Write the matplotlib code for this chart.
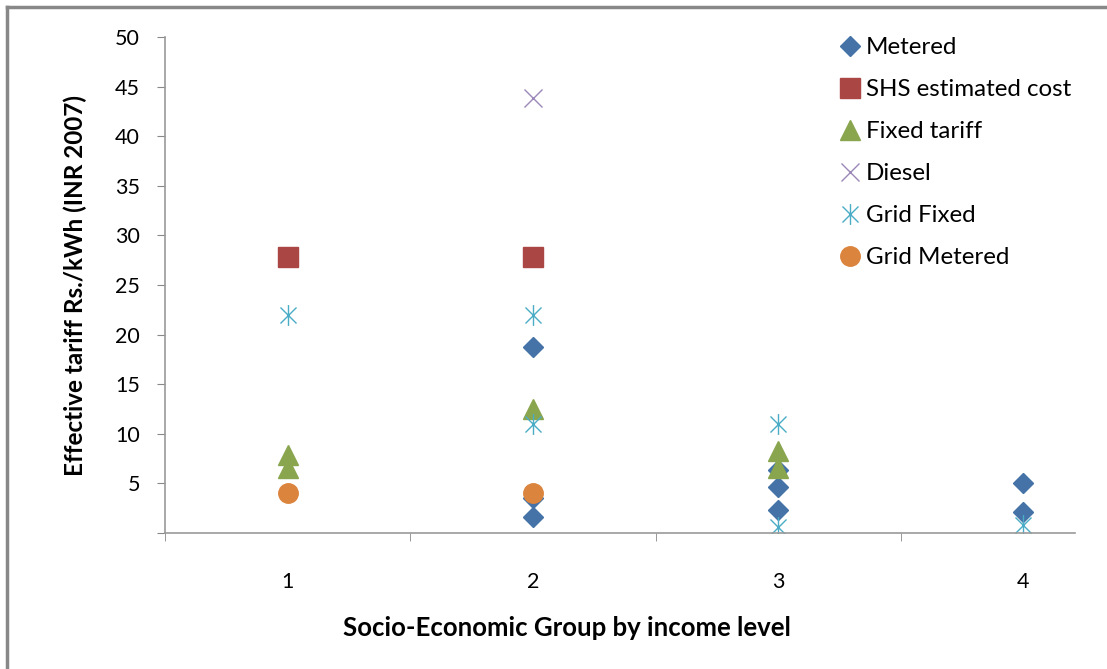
import numpy as np
import matplotlib.pyplot as plt
from matplotlib.path import Path
from matplotlib.lines import Line2D

plt.rcParams['font.family'] = ['Lato', 'DejaVu Sans']

# data (x = socio-economic group, y = Rs./kWh)
metered_x = [2, 2, 2, 3, 3, 3, 4, 4]
metered_y = [18.8, 3.5, 1.6, 6.4, 4.6, 2.3, 5.0, 2.1]
shs_x = [1, 2]
shs_y = [27.8, 27.8]
fixed_x = [1, 1, 2, 3, 3]
fixed_y = [7.9, 6.6, 12.5, 8.3, 6.6]
diesel_x = [2]
diesel_y = [43.9]
gridfixed_x = [1, 2, 2, 3, 3, 4]
gridfixed_y = [22.0, 22.0, 11.0, 11.0, 0.6, 0.8]
gridmetered_x = [1, 2]
gridmetered_y = [4.0, 4.0]

groups = [1, 2, 3, 4]
yticks = [0, 5, 10, 15, 20, 25, 30, 35, 40, 45, 50]

# excel style asterisk: X plus a vertical bar
star = Path([(-1, -1), (1, 1), (-1, 1), (1, -1), (0, -1.3), (0, 1.3)],
            [Path.MOVETO, Path.LINETO, Path.MOVETO, Path.LINETO, Path.MOVETO, Path.LINETO])

fig = plt.figure(figsize=(11.07, 6.69), dpi=100)
ax = fig.add_axes([165/1107, 1 - 533/669, (1075 - 165)/1107, (533 - 37)/669])

ax.plot(metered_x, metered_y, ls='none', marker='D', ms=10.5, color='#4572A7', label='Metered')
ax.plot(shs_x, shs_y, ls='none', marker='s', ms=14, color='#AA4643', label='SHS estimated cost')
ax.plot(fixed_x, fixed_y, ls='none', marker='^', ms=15, color='#89A54E', label='Fixed tariff')
ax.plot(diesel_x, diesel_y, ls='none', marker='x', ms=13, mew=1.0, color='#9B87B8', label='Diesel')
ax.plot(gridfixed_x, gridfixed_y, ls='none', marker=star, ms=15, mew=1.0, color='#4BACC6', label='Grid Fixed')
ax.plot(gridmetered_x, gridmetered_y, ls='none', marker='o', ms=14, color='#DB843D', label='Grid Metered')

ax.set_xlim(0.5, 4.21)
ax.set_ylim(0, 50)
ax.set_yticks(yticks)
ax.set_yticklabels(['' if v == 0 else str(v) for v in yticks])
ax.set_xticks(groups)
ax.set_xticklabels([str(g) for g in groups])
ax.set_xticks([0.5, 1.5, 2.5, 3.5], minor=True)
ax.tick_params(axis='x', which='major', length=0, pad=28, labelsize=15.5)
ax.tick_params(axis='x', which='minor', length=6, color='#888888', direction='out')
ax.tick_params(axis='y', length=6, color='#888888', labelsize=15.5, pad=12)

for s in ['top', 'right']:
    ax.spines[s].set_visible(False)
for s in ['left', 'bottom']:
    ax.spines[s].set_color('#999999')
    ax.spines[s].set_linewidth(1.2)

leg = ax.legend(loc='upper left', bbox_to_anchor=((826 - 165)/910, 1.019), frameon=False,
                fontsize=17.4, handletextpad=0.05, labelspacing=0.87, handlelength=1.2,
                borderaxespad=0)

fig.text(567/1107, 1 - 628/669, 'Socio-Economic Group by income level',
         ha='center', va='center', fontsize=18.5, fontweight='bold')
fig.text(75/1107, 1 - 285/669, 'Effective tariff Rs./kWh (INR 2007)', rotation=90,
         ha='center', va='center', fontsize=17.5, fontweight='bold')

# chart frame, cut off at the right and bottom
fig.add_artist(Line2D([7/1107, 7/1107], [0, 1 - 7/669], color='#888888', lw=2.5))
fig.add_artist(Line2D([7/1107, 1], [1 - 7/669, 1 - 7/669], color='#888888', lw=2.5))

fig.savefig('out.png', dpi=100)
